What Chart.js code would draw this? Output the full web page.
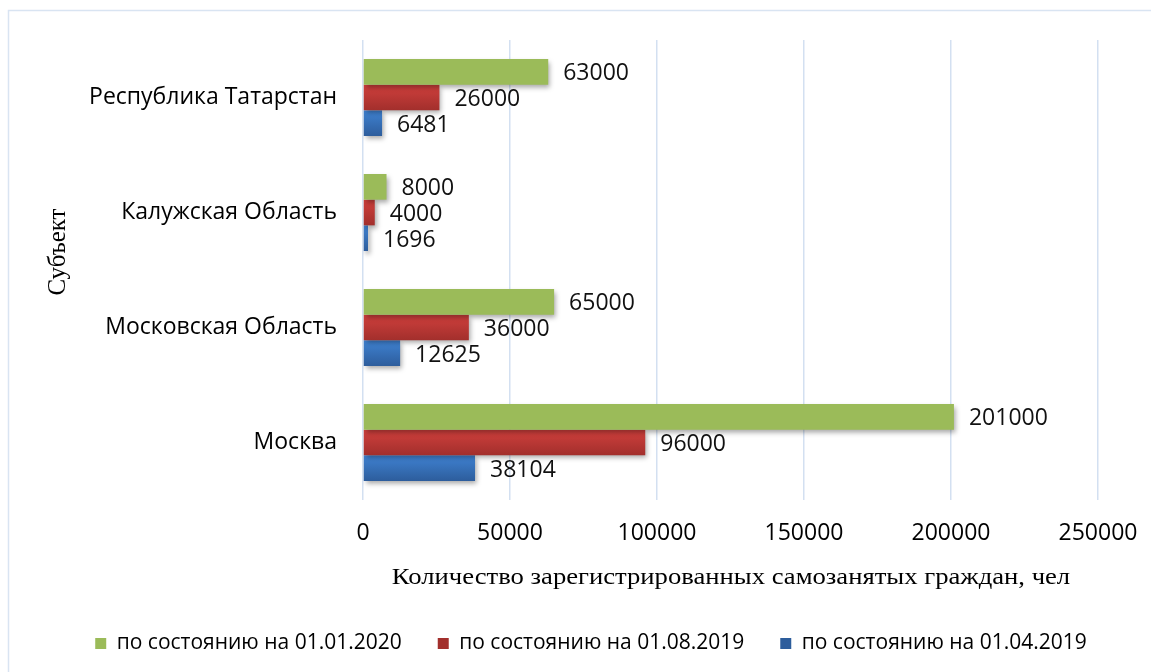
<!DOCTYPE html>
<html><head><meta charset="utf-8">
<script src="https://cdn.jsdelivr.net/npm/chart.js@4"></script>
<style>html,body{margin:0;padding:0;background:#fff;} #wrap{width:1151px;height:672px;}</style>
</head><body><div id="wrap"><canvas id="c" width="1151" height="672"></canvas></div>
<script>
const categories = ['Республика Татарстан', 'Калужская Область', 'Московская Область', 'Москва'];
const seriesNames = ['по состоянию на 01.01.2020', 'по состоянию на 01.08.2019', 'по состоянию на 01.04.2019'];
const values20200101 = [63000, 8000, 65000, 201000];
const values20190801 = [26000, 4000, 36000, 96000];
const values20190401 = [6481, 1696, 12625, 38104];
const xTickValues = [0, 50000, 100000, 150000, 200000, 250000];
const yTitle = 'Субъект';
const xTitle = 'Количество зарегистрированных самозанятых граждан, чел';

const CAT_PCT = 0.67;
function grad(topC, botC, flat) {
  return function (ctx) {
    const chart = ctx.chart;
    const ys = chart.scales && chart.scales.y;
    if (!ys || ctx.dataIndex == null || !isFinite(ys.height)) return flat;
    const center = ys.getPixelForValue(ctx.dataIndex);
    const band = ys.height / categories.length;
    const group = band * CAT_PCT;
    const bh = group / 3;
    const top = center - group / 2 + ctx.datasetIndex * bh;
    if (!isFinite(top)) return flat;
    const g = chart.ctx.createLinearGradient(0, top, 0, top + bh);
    g.addColorStop(0, topC);
    g.addColorStop(1, botC);
    return g;
  };
}

const borderPlugin = {
  id: 'frame',
  beforeDraw(chart) {
    const c = chart.ctx;
    c.save();
    c.fillStyle = '#fff';
    c.fillRect(0, 0, chart.width, chart.height);
    c.strokeStyle = '#d9e4f2';
    c.lineWidth = 1.5;
    c.strokeRect(8.5, 10.5, 1300, 800);
    c.restore();
  }
};
const legendShift = {
  id: 'legendShift',
  afterLayout(chart) {
    if (chart.legend) { chart.legend.left += 42; chart.legend.right += 42; }
  }
};
const shadowPlugin = {
  id: 'barShadow',
  beforeDatasetsDraw(chart) {
    const c = chart.ctx;
    c.save();
    c.shadowColor = 'rgba(0,0,0,0.35)';
    c.shadowBlur = 5;
    c.shadowOffsetX = 2;
    c.shadowOffsetY = 3;
  },
  afterDatasetsDraw(chart) { chart.ctx.restore(); }
};
const labelPlugin = {
  id: 'valueLabels',
  afterDraw(chart) {
    const c = chart.ctx;
    c.save();
    c.font = '23px "Open Sans"';
    c.fillStyle = '#111';
    c.textAlign = 'left';
    c.textBaseline = 'middle';
    chart.data.datasets.forEach((ds, di) => {
      chart.getDatasetMeta(di).data.forEach((el, i) => {
        c.fillText(String(ds.data[i]), el.x + 15, el.y + 2);
      });
    });
    // x axis title
    c.save();
    c.translate(731, 578);
    c.scale(1.11, 1);
    c.font = '24px "Liberation Serif"';
    c.textAlign = 'center';
    c.fillStyle = '#000';
    c.fillText(xTitle, 0, 0);
    c.restore();
    // y axis title
    c.translate(65, 252);
    c.rotate(-Math.PI / 2);
    c.font = '25px "Liberation Serif"';
    c.textAlign = 'center';
    c.textBaseline = 'alphabetic';
    c.fillStyle = '#000';
    c.fillText(yTitle, 0, 0);
    c.restore();
  }
};

new Chart(document.getElementById('c'), {
  type: 'bar',
  data: {
    labels: categories,
    datasets: [
      { label: seriesNames[0], data: values20200101, backgroundColor: '#9bbb59' },
      { label: seriesNames[1], data: values20190801, backgroundColor: grad('#d0403d', '#a22f2c', '#c0504d') },
      { label: seriesNames[2], data: values20190401, backgroundColor: grad('#3f82d2', '#2d5d9c', '#4f81bd') }
    ]
  },
  options: {
    indexAxis: 'y',
    responsive: false,
    animation: false,
    devicePixelRatio: 1,
    datasets: { bar: { categoryPercentage: CAT_PCT, barPercentage: 1, borderWidth: 0 } },
    layout: { padding: { left: 0, right: 53, top: 40, bottom: 13 } },
    scales: {
      x: {
        min: 0, max: 250000,
        afterBuildTicks(s) { s.ticks = xTickValues.map(v => ({ value: v })); },
        afterFit(s) { s.height = 97; s.paddingLeft = 0; s.paddingRight = 0; },
        grid: { color: '#d3e0f1', lineWidth: 1.5, drawTicks: false },
        border: { display: false },
        ticks: { padding: 20, color: '#000', font: { family: 'Open Sans', size: 23 }, callback: (v) => String(v) }
      },
      y: {
        afterFit(s) { s.width = 363; },
        grid: { display: false, drawTicks: false },
        border: { display: false },
        ticks: { padding: 26, color: '#000', font: { family: 'Open Sans', size: 23 } }
      }
    },
    plugins: {
      legend: {
        position: 'bottom',
        maxHeight: 62,
        labels: {
          boxWidth: 11, boxHeight: 11, padding: 36, color: '#000',
          font: { family: 'Open Sans', size: 21 }
        }
      },
      tooltip: { enabled: false }
    }
  },
  plugins: [borderPlugin, legendShift, shadowPlugin, labelPlugin]
});
</script>
</body></html>
